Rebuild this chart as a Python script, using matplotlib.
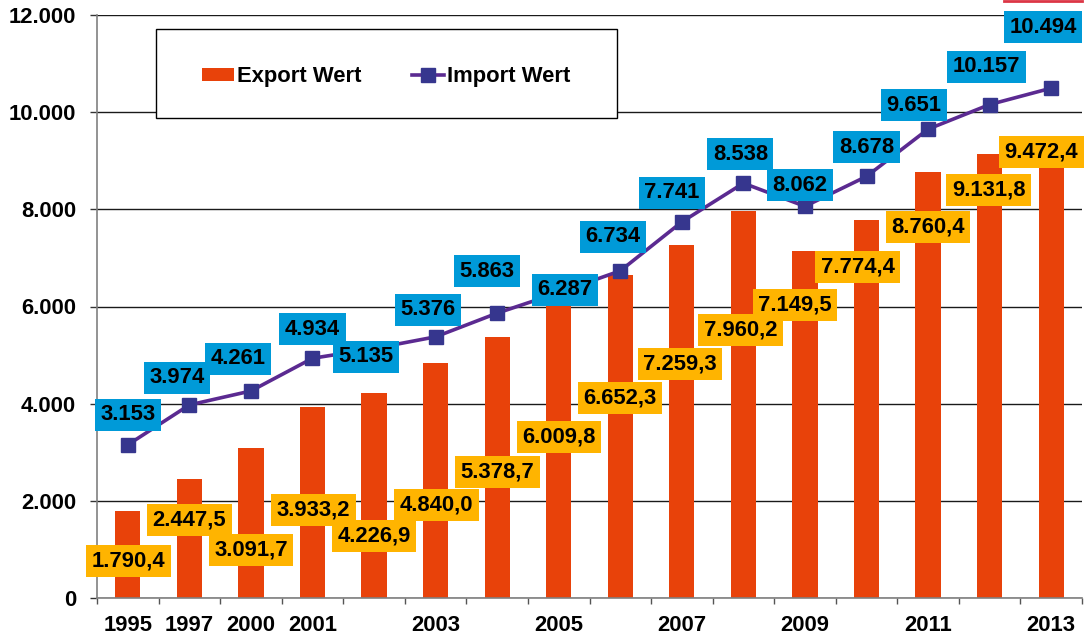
import matplotlib
matplotlib.use("Agg")
import matplotlib.pyplot as plt
from matplotlib.patches import Rectangle, Patch
from matplotlib.lines import Line2D
from matplotlib.ticker import FuncFormatter, FixedLocator
import numpy as np

plt.rcParams["font.family"] = ["Liberation Sans", "DejaVu Sans"]
plt.rcParams["font.weight"] = "bold"

# Export and import values per year
years = [1995, 1997, 2000, 2001, 2002, 2003, 2004, 2005,
         2006, 2007, 2008, 2009, 2010, 2011, 2012, 2013]
year_labels = ["1995", "1997", "2000", "2001", "", "2003", "", "2005",
               "", "2007", "", "2009", "", "2011", "", "2013"]
export_wert = [1790.4, 2447.5, 3091.7, 3933.2, 4226.9, 4840.0, 5378.7, 6009.8,
               6652.3, 7259.3, 7960.2, 7149.5, 7774.4, 8760.4, 9131.8, 9472.4]
import_wert = [3153, 3974, 4261, 4934, 5135, 5376, 5863, 6287,
               6734, 7741, 8538, 8062, 8678, 9651, 10157, 10494]

# Label box offsets (pixels) from each marker / bar top
import_offsets = [(0, 30), (-12, 27), (-13, 32), (0, 29), (-8, -8), (-8, 27),
                  (-10, 42), (6, 3), (-7, 34), (-10, 29), (-3, 29), (-5, 21),
                  (0, 29), (-14, 24), (-3, 38), (-8, 61)]
export_offsets = [(1, -50), (0, -41), (0, -102), (1, -103), (0, -143), (1, -142),
                  (0, -135), (0, -131), (0, -123), (-2, -119), (-3, -119), (-10, -54),
                  (-9, -47), (0, -55), (-1, -36), (-10, -14)]

bar_color = "#E8420A"
line_color = "#5B2A91"
marker_color = "#36368E"
imp_box = "#009AD8"
exp_box = "#FFB400"
fs = 15.8


def de_int(v):
    return f"{v:,.0f}".replace(",", ".")


def de_dec(v):
    return f"{v:,.1f}".replace(",", "X").replace(".", ",").replace("X", ".")


fig = plt.figure(figsize=(10.86, 6.36), dpi=100)
ax = fig.add_axes([97 / 1086, 38 / 636, 985 / 1086, 583 / 636])

x = np.arange(len(years))
ax.bar(x, export_wert, width=0.41, color=bar_color, zorder=2)
ax.plot(x, import_wert, color=line_color, lw=2.6, marker="s", ms=10.5,
        mfc=marker_color, mec=marker_color, zorder=3)

# Value boxes
for xi, v, (dx, dy) in zip(x, import_wert, import_offsets):
    ax.annotate(de_int(v), (xi, v), xytext=(dx, dy), textcoords="offset pixels",
                ha="center", va="center", fontsize=fs, fontweight="bold",
                bbox=dict(boxstyle="square,pad=0.25", fc=imp_box, ec="none"),
                zorder=6)
for xi, v, (dx, dy) in zip(x, export_wert, export_offsets):
    ax.annotate(de_dec(v), (xi, v), xytext=(dx, dy), textcoords="offset pixels",
                ha="center", va="center", fontsize=fs, fontweight="bold",
                bbox=dict(boxstyle="square,pad=0.25", fc=exp_box, ec="none"),
                zorder=6)

# Axes
ax.set_xlim(-0.5, len(years) - 0.5)
ax.set_ylim(0, 12000)
ax.set_yticks(np.arange(0, 12001, 2000))
ax.yaxis.set_major_formatter(FuncFormatter(lambda v, p: de_int(v)))
ax.grid(axis="y", color="#1a1a1a", lw=1, zorder=0)
ax.set_xticks(x)
ax.set_xticklabels(year_labels)
ax.xaxis.set_minor_locator(FixedLocator(np.arange(-0.5, len(years), 1.0)))
ax.tick_params(axis="x", which="major", length=0, pad=12, labelsize=fs)
ax.tick_params(axis="x", which="minor", length=4.5, width=1, color="#555555")
ax.tick_params(axis="y", length=5, width=1, color="#333333", pad=10, labelsize=fs)
for s in ["top", "right"]:
    ax.spines[s].set_visible(False)
for s in ["left", "bottom"]:
    ax.spines[s].set_color("#808080")
    ax.spines[s].set_linewidth(1.2)

# Legend with its own frame
ax.add_patch(Rectangle((0.0599, 0.823), 0.468, 0.153, transform=ax.transAxes,
                       fc="white", ec="black", lw=1, zorder=4))
handles = [Patch(facecolor=bar_color, edgecolor="none", label="Export Wert"),
           Line2D([], [], color=line_color, lw=2.6, marker="s", ms=10,
                  mfc=marker_color, mec=marker_color, label="Import Wert")]
leg = ax.legend(handles=handles, loc="center", bbox_to_anchor=(0.294, 0.894),
                ncol=2, frameon=False, fontsize=fs, columnspacing=2.3,
                handlelength=1.45, handleheight=0.55, handletextpad=0.15)
leg.set_zorder(5)

fig.add_artist(Line2D([1004 / 1086, 1082 / 1086], [1 - 1 / 636, 1 - 1 / 636],
                      color="#DC3545", lw=2, transform=fig.transFigure))

fig.savefig("out.png", dpi=100)
